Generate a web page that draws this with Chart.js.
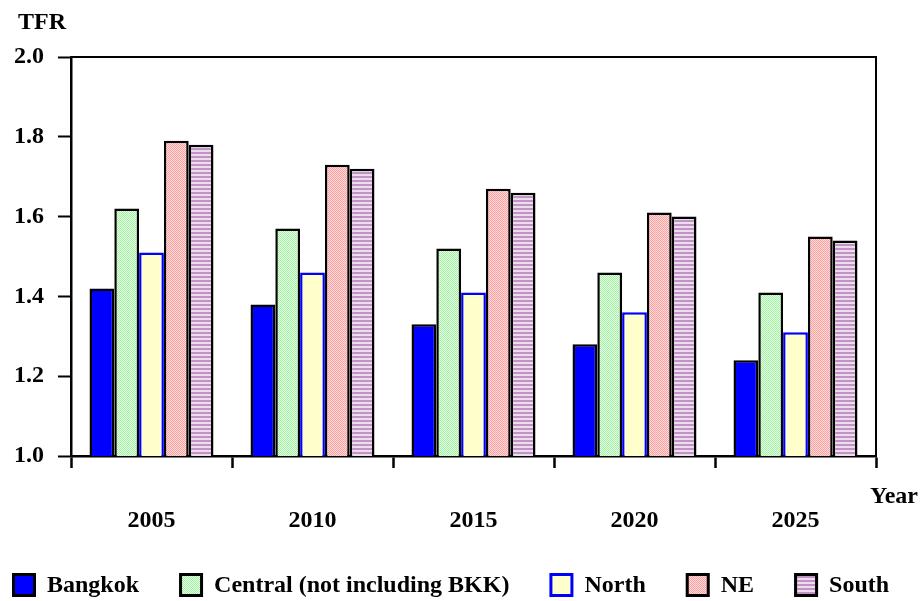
<!DOCTYPE html>
<html>
<head>
<meta charset="utf-8">
<script src="https://cdn.jsdelivr.net/npm/chart.js@4/dist/chart.umd.min.js"></script>
<style>
  body { margin: 0; background: #fff; }
  #wrap { width: 923px; height: 601px; }
</style>
</head>
<body>
<div id="wrap"><canvas id="tfrChart" width="923" height="601"></canvas></div>
<script>
const years = ["2005", "2010", "2015", "2020", "2025"];
const bangkok = [1.42, 1.38, 1.33, 1.28, 1.24];
const central = [1.62, 1.57, 1.52, 1.46, 1.41];
const north = [1.51, 1.46, 1.41, 1.36, 1.31];
const northEast = [1.79, 1.73, 1.67, 1.61, 1.55];
const south = [1.78, 1.72, 1.66, 1.60, 1.54];
const yTicks = [1.0, 1.2, 1.4, 1.6, 1.8, 2.0];

const FONT = '"Liberation Serif", "Times New Roman", serif';

// small fill patterns like the old spreadsheet hatching
function makePattern(kind, bg, fg) {
  const c = document.createElement("canvas");
  c.width = 4;
  c.height = 4;
  const g = c.getContext("2d");
  g.fillStyle = bg;
  g.fillRect(0, 0, 4, 4);
  g.fillStyle = fg;
  if (kind === "dots") {
    g.fillRect(0, 0, 1, 1);
    g.fillRect(2, 0, 1, 1);
    g.fillRect(1, 1, 1, 1);
    g.fillRect(3, 1, 1, 1);
    g.fillRect(0, 2, 1, 1);
    g.fillRect(2, 2, 1, 1);
    g.fillRect(1, 3, 1, 1);
    g.fillRect(3, 3, 1, 1);
  } else {
    g.fillRect(0, 0, 4, 2);
  }
  return g.createPattern(c, "repeat");
}

const greenFill = makePattern("dots", "#e6ffe6", "#a2f0a2");
const pinkFill = makePattern("dots", "#ffdcdc", "#ffa0a0");
const purpleFill = makePattern("lines", "#eedcee", "#bf94c4");

const frameAndText = {
  id: "frameAndText",
  afterDraw(chart) {
    const ctx = chart.ctx;
    const a = chart.chartArea;
    ctx.save();
    ctx.strokeStyle = "#000";
    ctx.lineWidth = 2;
    ctx.beginPath();
    ctx.moveTo(a.left, a.top);
    ctx.lineTo(a.right, a.top);
    ctx.lineTo(a.right, a.bottom);
    ctx.stroke();

    ctx.fillStyle = "#000";
    ctx.font = "bold 24px " + FONT;
    ctx.textBaseline = "middle";
    ctx.textAlign = "left";
    ctx.fillText("TFR", 18, 23);
    ctx.textAlign = "right";
    ctx.fillText("Year", 918, 497);

    // legend along the bottom
    ctx.textAlign = "left";
    const box = 24, gapText = 11, gap = 40;
    let x = 12;
    const yMid = 585;
    chart.data.datasets.forEach((d) => {
      ctx.fillStyle = d.backgroundColor;
      ctx.fillRect(x, yMid - box / 2, box, box);
      ctx.strokeStyle = d.borderColor;
      ctx.lineWidth = 3;
      ctx.strokeRect(x + 1.5, yMid - box / 2 + 1.5, box - 3, box - 3);
      ctx.fillStyle = "#000";
      ctx.fillText(d.label, x + box + gapText, yMid + 1);
      x += box + gapText + ctx.measureText(d.label).width + gap;
    });
    ctx.restore();
  }
};

const ctx = document.getElementById("tfrChart").getContext("2d");
new Chart(ctx, {
  type: "bar",
  data: {
    labels: years,
    datasets: [
      { label: "Bangkok", data: bangkok, backgroundColor: "#0000ff", borderColor: "#000" },
      { label: "Central (not including BKK)", data: central, backgroundColor: greenFill, borderColor: "#000" },
      { label: "North", data: north, backgroundColor: "#ffffcc", borderColor: "#0000ff" },
      { label: "NE", data: northEast, backgroundColor: pinkFill, borderColor: "#000" },
      { label: "South", data: south, backgroundColor: purpleFill, borderColor: "#000" }
    ]
  },
  options: {
    responsive: false,
    animation: false,
    datasets: {
      bar: {
        borderWidth: 2.5,
        borderSkipped: false,
        categoryPercentage: 0.77,
        barPercentage: 1
      }
    },
    layout: {
      padding: { top: 57, right: 47, bottom: 0, left: 0 }
    },
    plugins: {
      legend: { display: false },
      tooltip: { enabled: false }
    },
    scales: {
      x: {
        grid: {
          offset: true,
          drawOnChartArea: false,
          tickLength: 12,
          tickWidth: 2.5,
          tickColor: "#000"
        },
        border: { color: "#000", width: 2.5 },
        ticks: {
          color: "#000",
          font: { family: FONT, size: 24, weight: "bold" },
          padding: 38,
          maxRotation: 0,
          autoSkip: false
        },
        afterFit(s) {
          s.height = 145;
        }
      },
      y: {
        min: 1.0,
        max: 2.0,
        afterBuildTicks(s) {
          s.ticks = yTicks.map((v) => ({ value: v }));
        },
        grid: {
          drawOnChartArea: false,
          tickLength: 13,
          tickWidth: 2,
          tickColor: "#000"
        },
        border: { color: "#000", width: 2.5 },
        ticks: {
          color: "#000",
          font: { family: FONT, size: 24, weight: "bold" },
          padding: 14,
          callback: (v) => Number(v).toFixed(1)
        },
        afterFit(s) {
          s.width = 71;
        }
      }
    }
  },
  plugins: [frameAndText]
});
</script>
</body>
</html>
